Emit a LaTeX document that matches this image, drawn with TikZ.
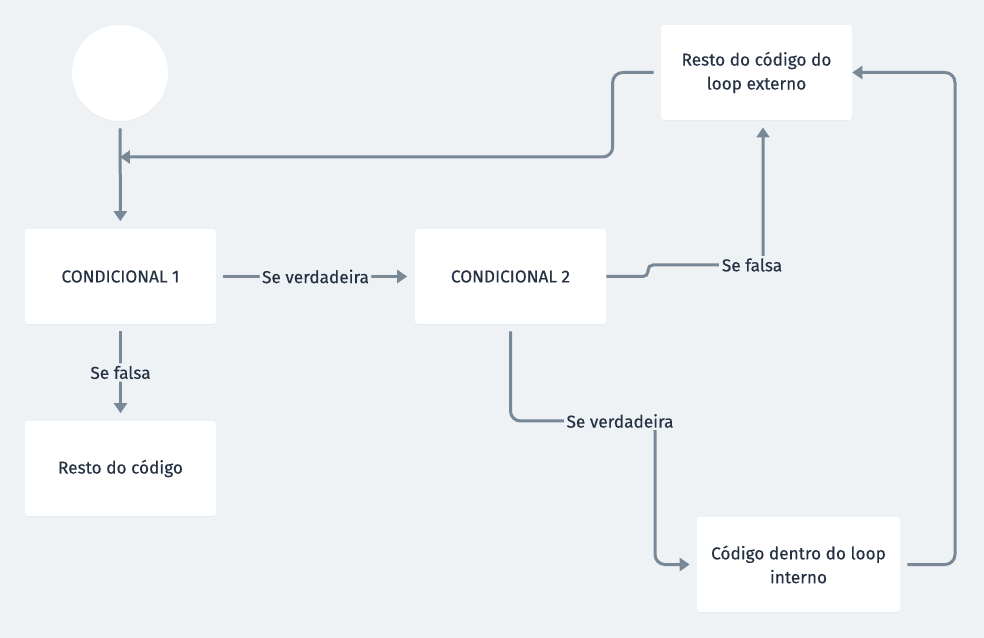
\documentclass[tikz,border=0pt]{standalone}
\usepackage{fontspec}
\setmainfont{Fira Sans}
\usetikzlibrary{arrows.meta,shadows}
\definecolor{bgc}{HTML}{EFF2F5}
\definecolor{linec}{HTML}{788896}
\definecolor{textc}{HTML}{253142}
\tikzstyle{every node}=[text=textc,font=\fontsize{9.8}{13.6}\selectfont\addfontfeature{FakeBold=0.3}]
\tikzstyle{box}=[fill=white,rounded corners=0.06cm,minimum width=3.82cm,minimum height=1.9cm,align=center,drop shadow={opacity=0.06,shadow xshift=0pt,shadow yshift=-0.5pt}]
\tikzstyle{start}=[fill=white,circle,minimum size=1.92cm,drop shadow={opacity=0.06,shadow xshift=0pt,shadow yshift=-0.5pt}]
\tikzstyle{flow}=[draw=linec,line width=0.06cm,-{Triangle[length=0.2cm,width=0.26cm]},shorten <=0.14cm,shorten >=0.15cm,rounded corners=0.2cm]
\tikzstyle{cond}=[fill=bgc,inner sep=0.05cm]

\begin{document}
\begin{tikzpicture}[x=0.02cm,y=-0.02cm]
	\fill[bgc] (0,0) rectangle (984,638);
	\node[start] (ini) at (120,73) {};
	\node[box] (c1) at (120.5,276.5) {CONDICIONAL 1};
	\node[box] (c2) at (510.5,276.5) {CONDICIONAL 2};
	\node[box] (resto) at (120.5,468.5) {Resto do código};
	\node[box] (ext) at (756.5,72.5) {Resto do código do\\loop externo};
	\node[box,minimum width=4.06cm] (int) at (798.5,564.5) {Código dentro do loop\\interno};
	\coordinate (join) at (120,157);
	\draw[flow] (ini) -- (c1);
	\draw[flow,shorten >=0cm] (ext.west) -- ++(-48,0) |- (join);
	\draw[flow] (c1) -- node[cond] {Se verdadeira} (c2);
	\draw[flow] (c1) -- node[cond] {Se falsa} (resto);
	\draw[flow,shorten <=0cm,rounded corners=0.1cm] (c2.east) -- (648,276.5) -- (648,265) -- (763,265) -- (763,120);
	\node[cond] (f2) at (752,265) {Se falsa};
	\draw[flow,shorten >=0.14cm] (c2.south) -- (510.5,421) -- (655,421) -- (655,564.5) -- (int.west);
	\node[cond] (v2) at (620,421) {Se verdadeira};
	\draw[flow,shorten >=0cm] (int.east) -- (955,564.5) -- (955,72.5) -- (ext.east);
\end{tikzpicture}
\end{document}
